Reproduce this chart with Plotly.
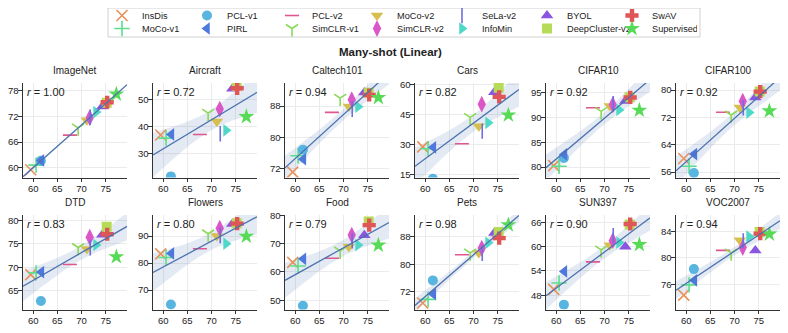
import numpy as np
import plotly.graph_objects as go

methods = ["InsDis", "MoCo-v1", "PCL-v1", "PIRL", "PCL-v2", "SimCLR-v1", "MoCo-v2",
           "SimCLR-v2", "SeLa-v2", "InfoMin", "BYOL", "DeepCluster-v2", "SwAV", "Supervised"]

# ImageNet linear accuracy (x axis of every panel)
imagenet = [59.5, 60.6, 61.6, 61.7, 67.6, 69.3, 71.1, 71.7, 71.8, 73.0, 74.3, 75.2, 75.3, 77.2]
aircraft = [36.87, 35.70, 21.61, 37.08, 37.03, 44.90, 41.79, 46.38, 37.29, 38.58, 53.87, 54.94, 54.04, 43.59]
caltech101 = [71.16, 75.33, 76.90, 74.48, 86.42, 90.05, 87.92, 89.63, 87.20, 87.84, 91.46, 91.41, 90.84, 90.18]
cars = [28.98, 27.99, 12.93, 28.72, 30.51, 43.73, 39.31, 50.37, 36.86, 41.04, 56.40, 58.60, 54.06, 44.92]
cifar10 = [80.28, 80.16, 81.84, 82.53, 91.91, 91.18, 92.28, 92.53, 92.73, 91.49, 93.26, 94.02, 93.99, 91.42]
cifar100 = [59.97, 57.71, 55.74, 61.26, 73.54, 72.73, 74.90, 76.78, 74.81, 73.43, 77.86, 79.61, 79.58, 73.90]
dtd = [68.46, 68.83, 62.87, 68.99, 70.59, 74.20, 73.88, 76.38, 74.15, 74.73, 76.91, 78.62, 77.02, 72.23]
flowers = [83.44, 82.10, 64.73, 83.60, 85.34, 90.87, 90.07, 92.90, 90.22, 87.18, 94.50, 94.72, 94.62, 89.93]
food = [63.39, 62.10, 48.02, 64.65, 64.88, 67.47, 68.95, 73.08, 71.08, 69.53, 73.01, 77.94, 76.62, 69.49]
pets = [68.78, 69.84, 75.34, 71.36, 82.79, 83.33, 83.30, 84.72, 83.22, 86.24, 89.10, 89.36, 87.60, 91.45]
sun397 = [49.47, 51.02, 45.70, 53.89, 56.25, 59.21, 60.32, 61.47, 62.71, 61.00, 59.99, 65.48, 65.58, 60.49]
voc2007 = [74.37, 75.93, 78.31, 76.61, 81.14, 80.77, 82.67, 81.57, 82.58, 83.24, 81.14, 83.94, 83.68, 83.60]

dataset_names = ["ImageNet", "Aircraft", "Caltech101", "Cars", "CIFAR10", "CIFAR100",
                 "DTD", "Flowers", "Food", "Pets", "SUN397", "VOC2007"]
dataset_values = [imagenet, aircraft, caltech101, cars, cifar10, cifar100,
                  dtd, flowers, food, pets, sun397, voc2007]
r_labels = ["1.00", "0.72", "0.94", "0.82", "0.92", "0.92",
            "0.83", "0.80", "0.79", "0.98", "0.90", "0.94"]
y_ticks = [[60, 66, 72, 78], [30, 40, 50], [72, 80, 88], [15, 30, 45, 60],
           [80, 85, 90, 95], [56, 64, 72, 80], [65, 70, 75, 80], [70, 80, 90],
           [50, 60, 70, 80], [72, 80, 88], [48, 54, 60, 66], [76, 80, 84]]
x_ticks = [60, 65, 70, 75]

# styling
colors = ["#e8915a", "#5cdf8c", "#57b5e0", "#4f78dc", "#e0578f", "#8ad957", "#d6bf4f",
          "#db57c8", "#6f6ee0", "#4fd8c8", "#8a55e0", "#b6db57", "#e05555", "#57db57"]
symbols = ["x-thin-open", "cross-thin-open", "circle", "triangle-left", "line-ew-open",
           "y-down-open", "triangle-down", "diamond-tall", "line-ns-open", "triangle-right",
           "triangle-up", "square", "cross", "star"]
sizes = [11, 11, 10, 11, 10, 10, 11, 12, 11, 11, 11, 10, 11, 12]
y_ranges = [[57.7, 79.8], [21.2, 56.0], [69.8, 93.9], [13.6, 61.0], [77.9, 96.9], [54.4, 82.1],
            [61.05, 81.1], [62.85, 97.8], [46.7, 80.2], [66.9, 94.3], [44.5, 67.8], [72.2, 86.5]]
x_range = [57.9, 79.4]

# the page body adds an 8px offset, so the figure is drawn 8px smaller and positions shifted
OFF = 8
W, H = 788 - OFF, 333 - OFF


def px(x):
    return (x - OFF) / W


def py(y):
    return 1 - (y - OFF) / H


col_left = [23, 153, 285, 415, 546, 676]
col_w = 104
row_top = [83, 215]
row_h = 94.5
line_col = "#4c72b0"
font = "Liberation Sans, Arial, sans-serif"

fig = go.Figure()
layout = {}
annotations = []
x_arr = np.array(imagenet)
xs = np.linspace(x_range[0], x_range[1], 120)

for i, (name, vals) in enumerate(zip(dataset_names, dataset_values)):
    r, c = divmod(i, 6)
    k = "" if i == 0 else str(i + 1)
    xa, ya = "x" + k, "y" + k
    x0 = px(col_left[c])
    x1 = px(col_left[c] + col_w)
    y1 = py(row_top[r])
    y0 = py(row_top[r] + row_h)
    axis_style = dict(showline=True, linecolor="#333", linewidth=1.2, ticks="outside",
                      ticklen=3.5, tickcolor="#333", showgrid=True, gridcolor="#ebebeb",
                      gridwidth=1, zeroline=False, tickfont=dict(size=9.5, color="#222"),
                      ticklabelstandoff=-2, mirror=False)
    layout["xaxis" + k] = dict(domain=[x0, x1], range=x_range, tickvals=x_ticks,
                               anchor=ya, **axis_style)
    layout["yaxis" + k] = dict(domain=[y0, y1], range=y_ranges[i], tickvals=y_ticks[i],
                               anchor=xa, **axis_style)

    # regression with 95% CI
    y_arr = np.array(vals)
    n = len(x_arr)
    b, a = np.polyfit(x_arr, y_arr, 1)
    resid = y_arr - (a + b * x_arr)
    s = np.sqrt(np.sum(resid ** 2) / (n - 2))
    sxx = np.sum((x_arr - x_arr.mean()) ** 2)
    se = s * np.sqrt(1 / n + (xs - x_arr.mean()) ** 2 / sxx)
    fit = a + b * xs
    ci = 2.179 * se
    fig.add_trace(go.Scatter(x=np.concatenate([xs, xs[::-1]]),
                             y=np.concatenate([fit + ci, (fit - ci)[::-1]]),
                             fill="toself", fillcolor="rgba(76,114,176,0.15)",
                             line=dict(width=0), mode="lines", hoverinfo="skip",
                             showlegend=False, xaxis=xa, yaxis=ya))

    for m, meth in enumerate(methods):
        sym = symbols[m]
        is_line = sym.endswith("-open")
        fig.add_trace(go.Scatter(
            x=[imagenet[m]], y=[vals[m]], mode="markers", name=meth,
            legendgroup=meth, showlegend=(i == 0),
            legend="legend" if m % 2 == 0 else "legend2",
            marker=dict(symbol=sym, size=sizes[m], color=colors[m],
                        line=dict(color=colors[m], width=1.6 if is_line else 0)),
            xaxis=xa, yaxis=ya))

    fig.add_trace(go.Scatter(x=xs, y=fit, mode="lines", line=dict(color=line_col, width=1.3),
                             showlegend=False, hoverinfo="skip", xaxis=xa, yaxis=ya))

    annotations.append(dict(text=name, x=(x0 + x1) / 2, y=y1 + 5 / H, xref="paper",
                            yref="paper", xanchor="center", yanchor="bottom",
                            showarrow=False, font=dict(size=10, color="#222")))
    annotations.append(dict(text="<i>r</i> = " + r_labels[i], x=0.015, y=0.99,
                            xref=xa + " domain", yref=ya + " domain", xanchor="left",
                            yanchor="top", showarrow=False, font=dict(size=11, color="#222")))

annotations.append(dict(text="<b>Many-shot (Linear)</b>", x=px(390), y=py(52),
                        xref="paper", yref="paper", xanchor="center", yanchor="middle",
                        showarrow=False, font=dict(size=11.5, color="#222")))

legend_style = dict(orientation="h", xanchor="left", yanchor="top", x=px(102),
                    bgcolor="rgba(0,0,0,0)", borderwidth=0, font=dict(size=9.2, color="#222"),
                    entrywidth=40, itemwidth=30, traceorder="normal")

fig.update_layout(
    width=W, height=H, margin=dict(l=0, r=0, t=0, b=0, autoexpand=False),
    paper_bgcolor="white", plot_bgcolor="white",
    font=dict(family=font, color="#222"),
    annotations=annotations,
    shapes=[dict(type="rect", xref="paper", yref="paper", x0=px(108), x1=px(700),
                 y0=py(37), y1=py(8), line=dict(color="#d0d0d0", width=1),
                 layer="below")],
    legend=dict(y=py(1), **legend_style),
    legend2=dict(y=py(14), **legend_style),
    **layout)

fig.write_html("out.html")
